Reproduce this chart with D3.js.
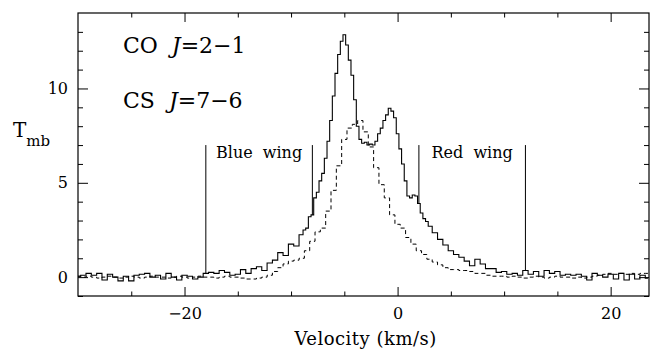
<!DOCTYPE html>
<html>
<head>
<meta charset="utf-8">
<script src="https://cdn.jsdelivr.net/npm/d3@7"></script>
<style>
  body { margin: 0; background: #fff; }
  svg { display: block; }
  text { font-family: "DejaVu Serif", serif; fill: #000; }
</style>
</head>
<body>
<svg id="chart" width="650" height="352"></svg>
<script>
// CO J=2-1 channels (km/s): coarse in the wings, finer across the line core
const coVel = [...d3.range(-30, -9, 0.5), ...d3.range(-9, 3, 0.25), ...d3.range(3, 23.75, 0.5)];
const coTmb = [
  // -30 .. -9.5
  0.05, 0.1, 0.2, 0.1, 0.2, -0.15, 0.15, 0.0, -0.2, 0.05,
  -0.2, 0.1, 0.15, 0.2, 0.0, 0.1, -0.1, 0.2, 0.0, -0.15,
  0.1, 0.05, -0.1, 0.0, 0.2, 0.25, 0.2, 0.35, 0.25, 0.1,
  0.15, 0.4, 0.2, 0.45, 0.55, 0.35, 0.75, 0.9, 1.3, 1.15,
  1.75, 1.65,
  // -9 .. 2.75
  2.25, 2.5, 2.6, 3.2, 3.3, 4.2, 4.5, 5.1, 5.5, 6.3,
  7.2, 8.3, 9.6, 10.8, 11.8, 12.5, 12.85, 12.3, 11.5, 10.7,
  9.4, 8.0, 7.3, 7.1, 7.15, 7.0, 7.05, 7.0, 7.2, 7.6,
  7.9, 8.3, 8.6, 8.95, 8.8, 8.45, 7.6, 6.8, 6.0, 5.1,
  4.3, 4.2, 4.35, 4.3, 3.9, 3.4, 3.1, 2.95,
  // 3 .. 23.5
  2.7, 2.35, 2.0, 1.7, 1.4, 1.2, 1.05, 0.85, 0.6, 0.95,
  0.7, 0.45, 0.45, 0.25, 0.3, 0.15, 0.2, 0.1, 0.35, 0.15,
  0.3, 0.05, 0.35, 0.2, 0.3, 0.1, 0.15, 0.1, 0.15, 0.05,
  -0.15, 0.2, 0.1, 0.0, 0.15, -0.1, 0.2, -0.15, 0.15, -0.1,
  0.1, -0.05
];

// CS J=7-6 channels (km/s)
const csVel = d3.range(-30, 23.75, 0.5);
const csTmb = [
  // -30 .. -15.5
  0.05, 0.0, 0.05, 0.0, -0.05, 0.0, 0.05, 0.0, -0.05, 0.0,
  0.05, 0.0, -0.05, 0.0, 0.05, 0.0, 0.0, -0.05, 0.0, 0.05,
  0.0, -0.05, 0.0, 0.05, 0.0, 0.0, -0.05, 0.0, 0.05,
  // -15.5 .. -0.5
  0.0, 0.0, -0.05, -0.1, -0.1, -0.05, 0.0, 0.1, 0.3, 0.5,
  0.7, 0.85, 0.9, 1.0, 1.4, 1.9, 2.4, 2.6, 3.5, 4.6,
  5.9, 7.3, 7.9, 8.1, 8.3, 7.7, 6.9, 5.8, 4.9, 4.2,
  3.3,
  // 0 .. 23.5
  2.8, 2.6, 2.1, 1.75, 1.4, 1.2, 0.95, 0.8, 0.65, 0.5,
  0.4, 0.4, 0.35, 0.35, 0.3, 0.2, 0.2, 0.1, 0.05, 0.05,
  0.05, 0.0, 0.05, 0.0, -0.05, 0.0, 0.05, 0.0, -0.05, 0.0,
  0.05, 0.0, 0.0, -0.05, 0.0, -0.05, 0.0, 0.05, 0.1, 0.15,
  0.2, 0.15, 0.2, 0.15, 0.2, 0.15, 0.2, 0.2
];

const xMajor = [-20, 0, 20];
const xMinor = [-25, -15, -10, -5, 5, 10, 15];
const yMajor = [0, 5, 10];
const yMinor = [-1, 1, 2, 3, 4, 6, 7, 8, 9, 11, 12, 13];

// wing boundaries (km/s) and label of each wing
const wingEdges = [-18, -8, 2, 12];
const wingNames = ["Blue wing", "Red wing"];
const wingTop = 7;

const W = 650, H = 352;
const margin = {top: 13, right: 1, bottom: 56, left: 78};
const w = W - margin.left - margin.right;
const h = H - margin.top - margin.bottom;

const svg = d3.select("#chart");
const g = svg.append("g").attr("transform", `translate(${margin.left},${margin.top})`);

const x = d3.scaleLinear().domain([-30, 23.6]).range([0, w]);
const y = d3.scaleLinear().domain([-1, 14]).range([h, 0]);

svg.append("clipPath").attr("id", "clip")
  .append("rect").attr("width", w).attr("height", h);

// ticks on all four sides, pointing inward
function ticks(axis, vals, size, labels) {
  return axis.tickValues(vals).tickSizeInner(-size).tickSizeOuter(0)
    .tickFormat(labels ? d3.format("") : "");
}

g.append("g").attr("transform", `translate(0,${h})`)
  .call(ticks(d3.axisBottom(x), xMajor, 9, true).tickPadding(12));
g.append("g").attr("transform", `translate(0,${h})`)
  .call(ticks(d3.axisBottom(x), xMinor, 4.5, false));
g.append("g").call(ticks(d3.axisTop(x), xMajor, 9, false));
g.append("g").call(ticks(d3.axisTop(x), xMinor, 4.5, false));

g.append("g").call(ticks(d3.axisLeft(y), yMajor, 10, true).tickPadding(10));
g.append("g").call(ticks(d3.axisLeft(y), yMinor, 5, false));
g.append("g").attr("transform", `translate(${w},0)`).call(ticks(d3.axisRight(y), yMajor, 10, false));
g.append("g").attr("transform", `translate(${w},0)`).call(ticks(d3.axisRight(y), yMinor, 5, false));

g.selectAll(".domain").remove();
g.selectAll(".tick line").attr("stroke", "#000").attr("stroke-width", 1);
g.selectAll(".tick text").attr("font-family", "DejaVu Serif").attr("font-size", 16).attr("fill", "#000");

g.append("rect")
  .attr("width", w).attr("height", h)
  .attr("fill", "none").attr("stroke", "#000").attr("stroke-width", 1.2);

// spectra as histograms
const line = d3.line().curve(d3.curveStep).x(d => x(d[0])).y(d => y(d[1]));
const plot = g.append("g").attr("clip-path", "url(#clip)");

plot.append("path")
  .datum(d3.zip(csVel, csTmb))
  .attr("d", line)
  .attr("fill", "none").attr("stroke", "#000").attr("stroke-width", 1)
  .attr("stroke-dasharray", "4,3");

plot.append("path")
  .datum(d3.zip(coVel, coTmb))
  .attr("d", line)
  .attr("fill", "none").attr("stroke", "#000").attr("stroke-width", 1.1);

// wing markers drop from wingTop down to the CO spectrum
const coAt = v => coTmb[d3.minIndex(coVel, c => Math.abs(c - v))];
plot.selectAll(".wing")
  .data(wingEdges)
  .join("line")
  .attr("x1", d => x(d)).attr("x2", d => x(d))
  .attr("y1", y(wingTop)).attr("y2", d => y(coAt(d)))
  .attr("stroke", "#000").attr("stroke-width", 1);

g.selectAll(".wingname")
  .data(wingNames)
  .join("text")
  .attr("x", (d, i) => x((wingEdges[2 * i] + wingEdges[2 * i + 1]) / 2))
  .attr("y", y(6.3))
  .attr("text-anchor", "middle")
  .attr("font-size", 16)
  .attr("word-spacing", 5)
  .text(d => d);

// line labels
const lbl = [["CO", "2\u22121", 53], ["CS", "7\u22126", 108]];
lbl.forEach(([mol, trans, yy]) => {
  const t = svg.append("text").attr("x", 123).attr("y", yy).attr("font-size", 22)
    .style("white-space", "pre");
  t.append("tspan").text(mol + "  ");
  t.append("tspan").attr("font-style", "italic").text("J");
  t.append("tspan").text("=" + trans);
});

// axis titles
svg.append("text")
  .attr("x", margin.left + x(0) - 32).attr("y", 345)
  .attr("text-anchor", "middle").attr("font-size", 18).attr("letter-spacing", 0.5)
  .text("Velocity (km/s)");

const yl = svg.append("text").attr("x", 13).attr("y", 137).attr("font-size", 20);
yl.append("tspan").text("T");
yl.append("tspan").attr("dy", 9).attr("font-size", 15).text("mb");
</script>
</body>
</html>
